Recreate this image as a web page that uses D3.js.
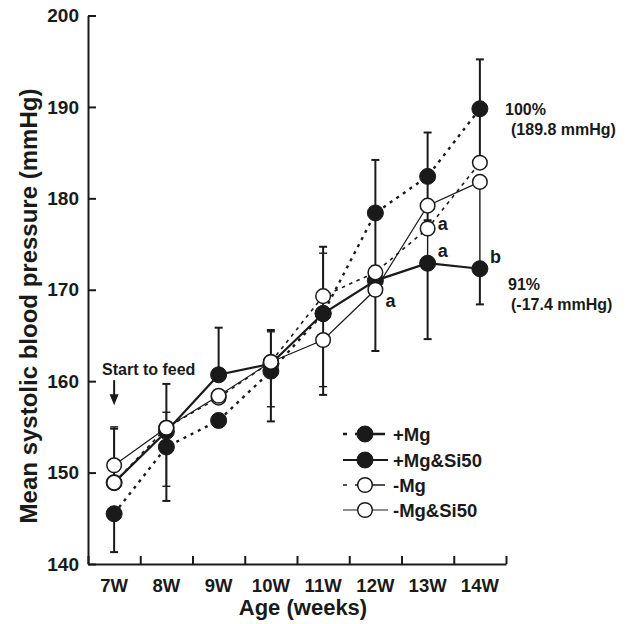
<!DOCTYPE html>
<html>
<head>
<meta charset="utf-8">
<script src="https://cdn.jsdelivr.net/npm/d3@7"></script>
<style>
  body { margin: 0; background: #fff; }
  svg text { font-family: Arial, "Liberation Sans", sans-serif; font-weight: bold; fill: #1a1a1a; }
</style>
</head>
<body>
<div id="chart"></div>
<script>
var weeks = ["7W", "8W", "9W", "10W", "11W", "12W", "13W", "14W"];
var yTicks = [140, 150, 160, 170, 180, 190, 200];

// mean systolic blood pressure (mmHg)
var plusMg     = [145.5, 152.8, 155.7, 161.1, 167.4, 178.4, 182.4, 189.8];
var plusMgSi   = [148.9, 154.5, 160.7, 161.9, 167.4, 171.0, 172.9, 172.3];
var minusMg    = [148.9, 154.9, 158.2, 162.1, 169.3, 171.9, 176.7, 183.9];
var minusMgSi  = [150.8, 154.9, 158.4, 162.1, 164.5, 170.0, 179.2, 181.8];

// error bars, upward / downward length (0 = none drawn)
var plusMgUp     = [0, 0, 0, 0, 0, 5.8, 4.8, 5.4];
var plusMgDown   = [4.2, 5.9, 0.7, 5.5, 8.9, 5.8, 4.8, 5.4];
var plusMgSiUp   = [5.9, 5.2, 5.15, 3.7, 7.3, 0, 0, 0];
var plusMgSiDown = [0, 0, 0, 0, 0, 7.7, 8.3, 3.9];
var minusMgUp    = [0, 0, 0, 0, 4.7, 0, 0, 0];
var minusMgDown  = [0, 6.4, 0, 4.9, 0, 0, 3.8, 0];
var minusMgSiUp  = [4.2, 1.7, 0, 3.3, 0, 0, 0, 0];
var minusMgSiDown= [0, 0, 0, 0, 5.1, 0, 0, 9.5];

var series = [
  { name: "+Mg",       values: plusMg,    up: plusMgUp,    down: plusMgDown,    filled: true,  width: 2.4, dash: "3,5",  barW: 2 },
  { name: "+Mg&Si50",  values: plusMgSi,  up: plusMgSiUp,  down: plusMgSiDown,  filled: true,  width: 2.2, dash: null,   barW: 2 },
  { name: "-Mg",       values: minusMg,   up: minusMgUp,   down: minusMgDown,   filled: false, width: 1.6, dash: "3.5,4.5", barW: 1.4 },
  { name: "-Mg&Si50",  values: minusMgSi, up: minusMgSiUp, down: minusMgSiDown, filled: false, width: 1.2, dash: null,   barW: 1.4 }
];

var svg = d3.select("#chart").append("svg").attr("width", 628).attr("height", 624);

var plotL = 88, plotR = 506, plotT = 15.5, plotB = 564;

var x = d3.scaleBand().domain(weeks).range([plotL, plotR]);
var y = d3.scaleLinear().domain([140, 200]).range([plotB, plotT]);
var cx = function (w) { return x(w) + x.bandwidth() / 2; };

// y axis
var yAxis = svg.append("g").attr("transform", "translate(" + plotL + ",0)")
  .call(d3.axisLeft(y).tickValues(yTicks).tickSize(-8).tickSizeOuter(0).tickPadding(9));
yAxis.selectAll("text").style("font-size", "19px");

// x axis: ticks on category boundaries
var xb = d3.scaleLinear().domain([0, weeks.length]).range([plotL, plotR]);
svg.append("g").attr("transform", "translate(0," + plotB + ")")
  .call(d3.axisBottom(xb).ticks(weeks.length).tickSize(-8).tickSizeOuter(0).tickFormat(""));
var xLab = svg.append("g").attr("transform", "translate(0," + plotB + ")")
  .call(d3.axisBottom(x).tickSize(0).tickPadding(15));
xLab.select(".domain").remove();
xLab.selectAll("text").style("font-size", "18.5px");

svg.selectAll(".domain, .tick line").attr("stroke", "#1a1a1a").attr("stroke-width", 2);

// axis titles
svg.append("text").attr("x", (plotL + plotR) / 2 + 6).attr("y", 615)
  .attr("text-anchor", "middle").style("font-size", "22px").text("Age (weeks)");
svg.append("text").attr("transform", "translate(37,306) rotate(-90)")
  .attr("text-anchor", "middle").style("font-size", "24px").text("Mean systolic blood pressure (mmHg)");

// error bars
var cap = 4;
series.forEach(function (s) {
  var g = svg.append("g").attr("stroke", "#1a1a1a").attr("stroke-width", s.barW);
  weeks.forEach(function (w, i) {
    var v = s.values[i];
    [[s.up[i], 1], [s.down[i], -1]].forEach(function (e) {
      if (!e[0]) return;
      var end = y(v + e[1] * e[0]);
      g.append("line").attr("x1", cx(w)).attr("x2", cx(w)).attr("y1", y(v)).attr("y2", end);
      g.append("line").attr("x1", cx(w) - cap).attr("x2", cx(w) + cap).attr("y1", end).attr("y2", end);
    });
  });
});

// lines
var line = d3.line().x(function (d) { return cx(d.w); }).y(function (d) { return y(d.v); });
series.forEach(function (s) {
  svg.append("path")
    .datum(weeks.map(function (w, i) { return { w: w, v: s.values[i] }; }))
    .attr("d", line).attr("fill", "none")
    .attr("stroke", "#1a1a1a").attr("stroke-width", s.width)
    .attr("stroke-dasharray", s.dash);
});

// markers
series.forEach(function (s) {
  svg.append("g").selectAll("circle")
    .data(s.values).enter().append("circle")
    .attr("cx", function (d, i) { return cx(weeks[i]); })
    .attr("cy", function (d) { return y(d); })
    .attr("r", s.filled ? 8 : 7.3)
    .attr("fill", s.filled ? "#1a1a1a" : "#fff")
    .attr("stroke", "#1a1a1a").attr("stroke-width", s.filled ? 1 : 1.5);
});

// significance letters
var letters = [
  { w: "12W", v: 170.0, t: "a", dy: 17 },
  { w: "13W", v: 176.7, t: "a", dy: 1 },
  { w: "13W", v: 172.9, t: "a", dy: -6 },
  { w: "14W", v: 172.3, t: "b", dy: -6 }
];
svg.append("g").selectAll("text").data(letters).enter().append("text")
  .attr("x", function (d) { return cx(d.w) + 10; })
  .attr("y", function (d) { return y(d.v) + d.dy; })
  .style("font-size", "18px").text(function (d) { return d.t; });

// percentages at 14W
var notes = [
  { v: 189.8, lines: ["100%", "(189.8 mmHg)"], dx: 505, dy: 6 },
  { v: 172.3, lines: ["91%", "(-17.4 mmHg)"], dx: 508, dy: 21 }
];
notes.forEach(function (n) {
  var t = svg.append("text").style("font-size", "16px").attr("y", y(n.v) + n.dy);
  t.append("tspan").attr("x", n.dx).text(n.lines[0]);
  t.append("tspan").attr("x", 511).attr("dy", 20).text(n.lines[1]);
});

// start to feed
svg.append("text").attr("x", 102).attr("y", y(160) - 6).style("font-size", "16px").text("Start to feed");
svg.append("line").attr("x1", cx("7W")).attr("x2", cx("7W"))
  .attr("y1", y(160) - 1).attr("y2", y(160) + 16)
  .attr("stroke", "#1a1a1a").attr("stroke-width", 2);
svg.append("path").attr("d", "M" + (cx("7W") - 4.5) + "," + (y(160) + 13) + "l9,0l-4.5,11z").attr("fill", "#1a1a1a");

// legend
var legY = [434, 460, 485, 510];
var leg = svg.append("g");
series.forEach(function (s, i) {
  var g = leg.append("g").attr("transform", "translate(0," + legY[i] + ")");
  g.append("line").attr("x1", 343).attr("x2", 388).attr("y1", 0).attr("y2", 0)
    .attr("stroke", "#1a1a1a").attr("stroke-width", s.width)
    .attr("stroke-dasharray", s.dash ? "4,8,30,8,4" : null);
  g.append("circle").attr("cx", 365).attr("cy", 0).attr("r", s.filled ? 8 : 7.3)
    .attr("fill", s.filled ? "#1a1a1a" : "#fff")
    .attr("stroke", "#1a1a1a").attr("stroke-width", s.filled ? 1 : 1.5);
  g.append("text").attr("x", 393).attr("y", 6.5).style("font-size", "18.5px").text(s.name);
});
</script>
</body>
</html>
